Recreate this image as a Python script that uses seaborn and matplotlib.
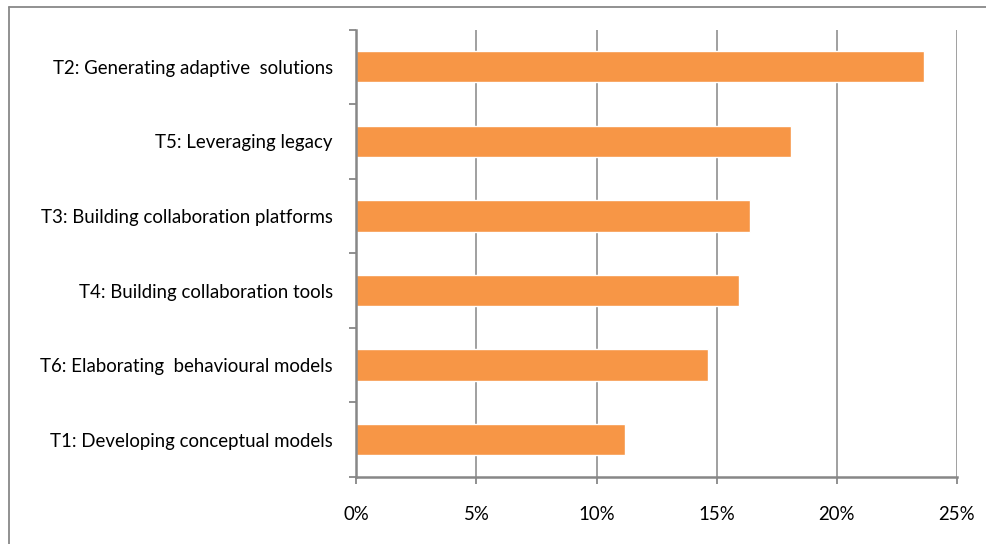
import seaborn as sns
import pandas as pd
import numpy as np
import matplotlib.pyplot as plt
import matplotlib.ticker as ticker
from matplotlib.lines import Line2D

# categories top to bottom, share of responses (%)
tasks = ['T2: Generating adaptive  solutions',
         'T5: Leveraging legacy',
         'T3: Building collaboration platforms',
         'T4: Building collaboration tools',
         'T6: Elaborating  behavioural models',
         'T1: Developing conceptual models']
shares = [23.65, 18.1, 16.4, 15.95, 14.65, 11.2]
x_ticks = [0, 5, 10, 15, 20, 25]

df = pd.DataFrame({'task': tasks, 'share': shares})

sns.set_theme(style='white')
plt.rcParams['font.family'] = ['Lato', 'DejaVu Sans']

fig = plt.figure(figsize=(9.87, 5.44), dpi=100)
W, H = 987, 544
ax = fig.add_axes([356.5 / W, (H - 477) / H, 600 / W, (477 - 29.5) / H])

sns.barplot(data=df, x='share', y='task', order=tasks, orient='h',
            color='#F79646', saturation=1, width=0.42, ax=ax)

grid_col = '#999999'
ax.set_xlim(0, 25)
ax.set_ylim(5.5, -0.5)
ax.set_xticks(x_ticks)
ax.xaxis.set_major_formatter(ticker.FuncFormatter(lambda v, p: f'{v:.0f}%'))
for v in x_ticks[1:]:
    ax.axvline(v, color=grid_col, lw=1.3, zorder=0)

ax.set_yticks(range(len(tasks)))
ax.set_yticks(np.arange(-0.5, len(tasks), 1.0), minor=True)
ax.tick_params(axis='y', which='major', length=0, pad=17, labelsize=13.4, labelcolor='#000000')
ax.tick_params(axis='y', which='minor', length=5, width=1.3, color='#878787', direction='out', left=True)
ax.tick_params(axis='x', which='major', length=5, width=1.3, color='#878787', direction='out', bottom=True,
               pad=16, labelsize=13.4, labelcolor='#000000')

for side in ['top', 'right']:
    ax.spines[side].set_visible(False)
for side in ['left', 'bottom']:
    ax.spines[side].set_color('#878787')
    ax.spines[side].set_linewidth(1.8)

ax.set_xlabel('')
ax.set_ylabel('')

# outer chart border (left and top visible)
fig.add_artist(Line2D([9 / W, 9 / W], [0, 1 - 7 / H], transform=fig.transFigure, color='#888888', lw=1.3))
fig.add_artist(Line2D([9 / W, 1], [1 - 7 / H, 1 - 7 / H], transform=fig.transFigure, color='#888888', lw=1.3))

fig.savefig('out.png', dpi=100)
